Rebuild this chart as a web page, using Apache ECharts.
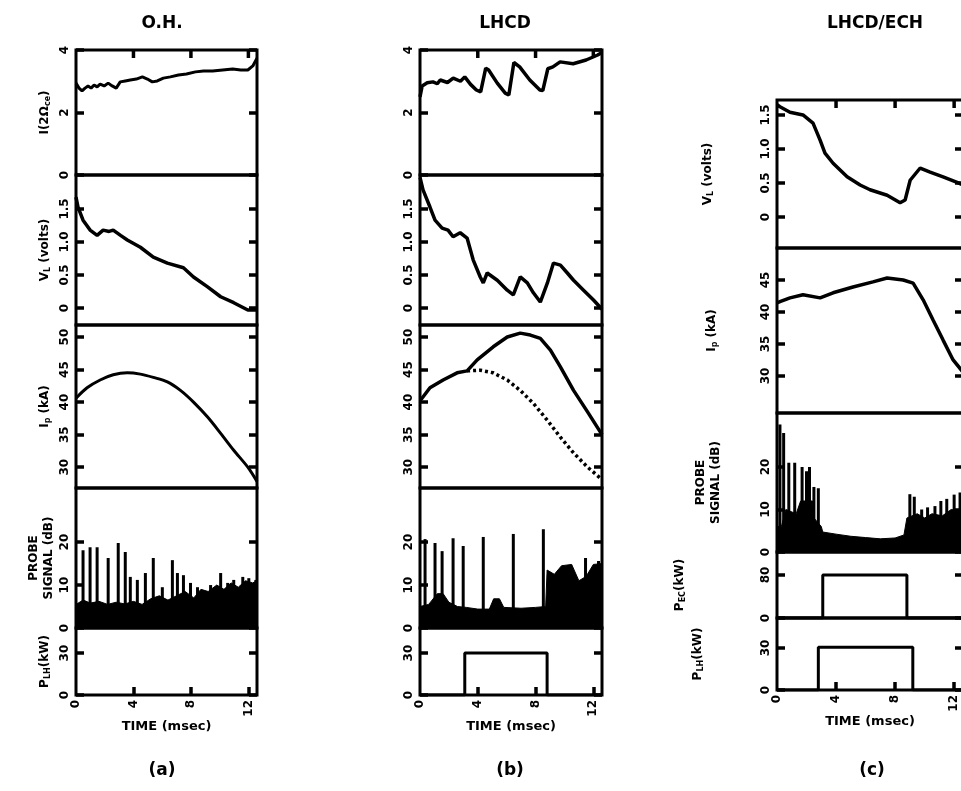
<!DOCTYPE html>
<html>
<head>
<meta charset="utf-8">
<title>O.H. / LHCD / LHCD-ECH</title>
<script src="https://cdn.jsdelivr.net/npm/echarts@6.0.0/dist/echarts.min.js"></script>
<style>
  html, body { margin: 0; padding: 0; background: #fff; }
  #chart { width: 961px; height: 791px; }
</style>
</head>
<body>
<div id="chart"></div>
<script>
// time axis, msec
const tMax = 12.6;
const timeTicks = [0, 4, 8, 12];

// tick values for each kind of panel
const iceTicks = [0, 2, 4];
const vloopTicks = [0, 0.5, 1, 1.5];
const ipTicks = [30, 35, 40, 45, 50];
const ecIpTicks = [30, 35, 40, 45];
const probeTicks = [0, 10, 20];
const plhTicks = [0, 30];
const pecTicks = [0, 80];

// (a) ohmic heating
const ohIce = [[0,2.94],[0.21,2.78],[0.42,2.69],[0.63,2.78],[0.84,2.85],[1.05,2.78],[1.26,2.88],[1.47,2.82],[1.68,2.91],[1.96,2.85],[2.24,2.94],[2.52,2.85],[2.8,2.78],[3.08,2.98],[3.43,3.01],[3.78,3.04],[4.2,3.07],[4.62,3.14],[4.97,3.07],[5.31,2.98],[5.66,3.01],[6.08,3.1],[6.57,3.14],[7.13,3.2],[7.69,3.23],[8.32,3.3],[8.88,3.33],[9.51,3.33],[10.21,3.36],[10.91,3.39],[11.47,3.36],[11.96,3.36],[12.31,3.49],[12.6,3.74]];
const ohVloop = [[0,1.68],[0.14,1.53],[0.49,1.33],[0.98,1.18],[1.47,1.1],[1.89,1.18],[2.3,1.16],[2.59,1.18],[3.1,1.1],[3.57,1.03],[4.48,0.92],[5.38,0.77],[6.36,0.68],[7.48,0.61],[8.18,0.47],[9.16,0.32],[10.07,0.17],[10.98,0.08],[11.96,-0.03],[12.6,-0.03]];
const ohIp = [[0,40.6],[0.77,42.2],[1.68,43.4],[2.59,44.2],[3.57,44.5],[4.48,44.3],[5.38,43.8],[6.36,43.1],[7.27,41.8],[8.18,40],[9.16,37.7],[10.07,35.2],[10.98,32.6],[11.96,30],[12.6,27.8]];
const ohProbeBand = [[0,5.5],[0.5,6.5],[1,5.8],[1.6,6.2],[2.2,5.5],[2.8,6],[3.4,5.6],[4,6.2],[4.6,5.5],[5.2,6.8],[5.8,7.5],[6.4,6.5],[7,7.5],[7.6,8.5],[8.2,7],[8.7,9],[9.2,8.5],[9.8,10],[10.3,9],[10.8,10.5],[11.3,9.5],[11.8,11],[12.3,10.5],[12.6,11]];
const ohProbeSpikes = [[0.49,18.1],[0.98,18.8],[1.47,18.8],[2.24,16.3],[2.94,19.8],[3.43,17.7],[3.78,11.9],[4.27,11.2],[4.83,12.8],[5.38,16.3],[6.01,9.5],[6.71,15.8],[7.06,12.8],[7.48,12.3],[7.97,10.5],[8.46,9.5],[9.37,10],[10.07,12.8],[10.56,10.5],[10.98,11.2],[11.61,11.9],[12.03,11.6],[12.52,11.2]];

// (b) lower hybrid current drive
const lhIce = [[0,2.5],[0.15,2.85],[0.5,2.95],[0.9,2.98],[1.2,2.92],[1.4,3.04],[1.9,2.96],[2.3,3.1],[2.8,3.0],[3.1,3.14],[3.5,2.9],[3.9,2.72],[4.2,2.66],[4.55,3.42],[4.75,3.36],[5.35,2.94],[5.9,2.62],[6.15,2.56],[6.5,3.6],[6.9,3.46],[7.6,3.04],[8.3,2.72],[8.5,2.7],[8.85,3.4],[9.2,3.46],[9.7,3.62],[10.6,3.56],[11.5,3.68],[12.3,3.84],[12.6,3.92]];
const lhVloop = [[0,1.98],[0.21,1.79],[0.69,1.53],[1.04,1.33],[1.53,1.21],[1.94,1.18],[2.29,1.08],[2.78,1.14],[3.26,1.06],[3.68,0.73],[4.17,0.47],[4.38,0.38],[4.65,0.53],[5.35,0.42],[6.04,0.27],[6.46,0.2],[6.94,0.47],[7.43,0.38],[7.85,0.23],[8.33,0.09],[8.82,0.38],[9.24,0.68],[9.72,0.65],[10.2,0.53],[10.63,0.42],[11.32,0.27],[12.01,0.12],[12.6,-0.02]];
const lhIp = [[0,40.3],[0.14,40.6],[0.69,42.2],[1.6,43.4],[2.57,44.5],[3.26,44.8],[3.96,46.5],[5.07,48.5],[6.04,50],[6.94,50.6],[7.64,50.3],[8.33,49.8],[9.03,48],[9.72,45.4],[10.63,41.8],[11.6,38.5],[12.6,35]];
const lhIpOhmic = [[3.26,44.8],[4.17,44.9],[5.07,44.5],[6.04,43.4],[6.94,41.8],[7.85,39.8],[8.82,37.2],[9.72,34.6],[10.63,32.2],[11.6,30],[12.6,28.1]];
const lhProbeBand = [[0,5],[0.6,5.5],[1.2,8],[1.6,8],[2.0,6],[2.6,5],[3.2,4.8],[4,4.4],[4.8,4.4],[5.1,6.8],[5.5,6.8],[5.8,4.8],[7,4.6],[8,4.8],[8.7,5],[8.8,13.5],[9.3,12.5],[9.8,14.5],[10.5,14.8],[11,11],[11.5,12],[12,14.8],[12.6,15]];
const lhProbeSpikes = [[0.35,20.7],[1.04,19.8],[1.53,17.9],[2.29,20.9],[2.99,19.1],[4.38,21.2],[6.46,21.9],[8.54,23],[11.46,16.3],[12.36,15.6]];
const lhPower = [[0,0],[3.1,0],[3.1,30],[8.8,30],[8.8,0],[12.6,0]];

// (c) LHCD with ECH
const ecVloop = [[0,1.65],[0.2,1.62],[0.88,1.54],[1.76,1.5],[2.44,1.38],[2.92,1.13],[3.25,0.94],[3.8,0.79],[4.75,0.59],[5.63,0.47],[6.3,0.4],[7.46,0.32],[8.34,0.21],[8.68,0.25],[9.02,0.54],[9.7,0.72],[10.37,0.66],[11.25,0.59],[12.2,0.51],[12.6,0.47]];
const ecIp = [[0,41.4],[0.2,41.6],[0.88,42.2],[1.76,42.7],[2.92,42.2],[3.8,43],[5.15,43.9],[6.5,44.7],[7.46,45.3],[8.55,45],[9.22,44.5],[9.9,41.9],[10.58,38.7],[11.25,35.6],[11.93,32.5],[12.6,30.6]];
const ecProbeBand = [[0,6],[0.3,6],[0.6,10],[1.3,9],[1.6,12],[2.4,12],[2.5,8],[3.0,6],[3.1,4.7],[4,4.2],[5,3.7],[6,3.4],[7,3.1],[8,3.3],[8.6,4],[8.8,8],[9.5,9],[10,8],[10.5,9],[11.2,8.5],[11.8,10],[12.6,9.5]];
const ecProbeSpikes = [[0.2,30],[0.45,28],[0.8,21],[1.2,21],[1.7,20],[2.0,19],[2.2,20],[2.5,15.3],[2.8,15],[9.0,13.6],[9.3,13],[9.8,10],[10.2,10.5],[10.7,10.8],[11.1,12],[11.5,12.5],[12.0,13.5],[12.4,14]];
const ecPower = [[0,0],[3.1,0],[3.1,80],[8.8,80],[8.8,0],[12.6,0]];
const ecLhPower = [[0,0],[2.8,0],[2.8,30.5],[9.2,30.5],[9.2,0],[12.6,0]];

const ink = '#000';
const font = 'DejaVu Sans';
const nameRich = {
  t: { fontSize: 12, fontWeight: 'bold', fontFamily: font, color: ink, lineHeight: 15 },
  s: { fontSize: 8, fontWeight: 'bold', fontFamily: font, color: ink, lineHeight: 15, verticalAlign: 'bottom' }
};

const columns = [
  { left: 76, width: 181, edges: [50, 175, 325, 488, 628, 695] },
  { left: 420, width: 182, edges: [50, 175, 325, 488, 628, 695] },
  { left: 777, width: 186, edges: [100, 248, 413, 552, 618, 690] }
];

const fmtV = v => (v === 0 ? '0' : v.toFixed(1));

function lineS(data, extra) {
  return Object.assign({ type: 'line', data, symbol: 'none', lineStyle: { color: ink, width: 3.5 } }, extra || {});
}
function bandS(data) {
  return { type: 'line', data, symbol: 'none', lineStyle: { color: ink, width: 1 }, areaStyle: { color: ink, opacity: 1 } };
}
function spikeS(data) {
  return { type: 'bar', data, barWidth: 3, itemStyle: { color: ink } };
}
// short tick marks hanging from the upper frame of a panel
function topTicksS(yTop) {
  return {
    type: 'custom',
    data: timeTicks.slice(1).map(t => [t]),
    renderItem: (params, api) => {
      const p = api.coord([api.value(0), yTop]);
      return { type: 'line', shape: { x1: p[0], y1: p[1], x2: p[0], y2: p[1] + 8 }, style: { stroke: ink, lineWidth: 3.5 } };
    }
  };
}

const panels = [
  [
    { min: 0, max: 4, ticks: iceTicks, name: '{t|I(2Ω}{s|ce}{t|)}', gap: 24, series: [lineS(ohIce, { lineStyle: { color: ink, width: 3 } })] },
    { min: -0.258, max: 2.015, ticks: vloopTicks, fmt: fmtV, name: '{t|V}{s|L}{t| (volts)}', gap: 24, series: [lineS(ohVloop)] },
    { min: 26.8, max: 51.85, ticks: ipTicks, name: '{t|I}{s|p}{t| (kA)}', gap: 24, series: [lineS(ohIp, { smooth: 0.3, lineStyle: { color: ink, width: 3 } })] },
    { min: 0, max: 32.6, ticks: probeTicks, name: '{t|PROBE}\n{t|SIGNAL (dB)}', gap: 20, series: [bandS(ohProbeBand), spikeS(ohProbeSpikes)] },
    { min: 0, max: 47.9, ticks: plhTicks, name: '{t|P}{s|LH}{t|(kW)}', gap: 24, series: [] }
  ],
  [
    { min: 0, max: 4, ticks: iceTicks, series: [lineS(lhIce)] },
    { min: -0.258, max: 2.015, ticks: vloopTicks, fmt: fmtV, series: [lineS(lhVloop)] },
    { min: 26.8, max: 51.85, ticks: ipTicks, series: [lineS(lhIp), lineS(lhIpOhmic, { lineStyle: { color: ink, width: 3.5, type: [3, 3] } })] },
    { min: 0, max: 32.6, ticks: probeTicks, series: [bandS(lhProbeBand), spikeS(lhProbeSpikes)] },
    { min: 0, max: 47.9, ticks: plhTicks, series: [lineS(lhPower, { lineStyle: { color: ink, width: 3 } })] }
  ],
  [
    { min: -0.456, max: 1.72, ticks: vloopTicks, fmt: fmtV, name: '{t|V}{s|L}{t| (volts)}', gap: 62, series: [lineS(ecVloop)] },
    { min: 24.2, max: 50, ticks: ecIpTicks, name: '{t|I}{s|p}{t| (kA)}', gap: 58, series: [lineS(ecIp)] },
    { min: 0, max: 32.7, ticks: probeTicks, name: '{t|PROBE}\n{t|SIGNAL (dB)}', gap: 54, series: [bandS(ecProbeBand), spikeS(ecProbeSpikes)] },
    { min: 0, max: 122.8, ticks: pecTicks, name: '{t|P}{s|EC}{t|(kW)}', gap: 90, series: [lineS(ecPower, { lineStyle: { color: ink, width: 3 } })] },
    { min: 0, max: 51.4, ticks: plhTicks, name: '{t|P}{s|LH}{t|(kW)}', gap: 72, series: [lineS(ecLhPower, { lineStyle: { color: ink, width: 3 } })] }
  ]
];

const tickStyle = { show: true, inside: true, length: 8, lineStyle: { color: ink, width: 3.5 } };
const labelStyle = { color: ink, fontFamily: font, fontWeight: 'bold', fontSize: 12, rotate: 90, margin: 5 };
const hiddenLine = { show: false, onZero: false };

const option = {
  animation: false,
  backgroundColor: '#fff',
  title: [
    { text: 'O.H.', left: 157, top: 10 },
    { text: 'LHCD', left: 500, top: 10 },
    { text: 'LHCD/ECH', left: 870, top: 10 },
    { text: '(a)', left: 157, top: 757 },
    { text: '(b)', left: 505, top: 757 },
    { text: '(c)', left: 867, top: 757 }
  ].map(t => Object.assign(t, { textAlign: 'center', textStyle: { color: ink, fontFamily: font, fontWeight: 'bold', fontSize: 17 } })),
  grid: [], xAxis: [], yAxis: [], series: []
};

columns.forEach((col, ci) => {
  const rows = panels[ci];
  rows.forEach((p, ri) => {
    const g = option.grid.length;
    const isTop = ri === 0;
    const isBottom = ri === rows.length - 1;
    option.grid.push({
      left: col.left, width: col.width,
      top: col.edges[ri], height: col.edges[ri + 1] - col.edges[ri],
      show: true, borderColor: ink, borderWidth: 3, outerBoundsMode: 'none'
    });
    const xi = option.xAxis.length;
    option.xAxis.push({
      gridIndex: g, type: 'value', min: 0, max: tMax,
      axisLine: hiddenLine, splitLine: { show: false },
      axisTick: Object.assign({}, tickStyle, { show: isBottom, customValues: [4, 8, 12] }),
      axisLabel: Object.assign({}, labelStyle, { show: isBottom, customValues: timeTicks }),
      name: isBottom ? 'TIME (msec)' : '', nameLocation: 'middle', nameGap: 22,
      nameTextStyle: { color: ink, fontFamily: font, fontWeight: 'bold', fontSize: 13 }
    });
    const yi = option.yAxis.length;
    option.yAxis.push({
      gridIndex: g, type: 'value', min: p.min, max: p.max,
      axisLine: hiddenLine, splitLine: { show: false },
      axisTick: Object.assign({}, tickStyle, { customValues: p.ticks }),
      axisLabel: Object.assign({}, labelStyle, { customValues: p.ticks, formatter: p.fmt || (v => String(v)) }),
      name: p.name || '', nameLocation: 'middle', nameGap: p.gap || 24, nameRotate: 90,
      nameTextStyle: { rich: nameRich, align: 'center' }
    });
    option.yAxis.push({
      gridIndex: g, type: 'value', position: 'right', min: p.min, max: p.max,
      axisLine: hiddenLine, splitLine: { show: false },
      axisTick: Object.assign({}, tickStyle, { customValues: p.ticks }),
      axisLabel: { show: false }
    });
    const list = isTop ? p.series.concat([topTicksS(p.max)]) : p.series;
    list.forEach(s => {
      option.series.push(Object.assign({ xAxisIndex: xi, yAxisIndex: yi, silent: true }, s));
    });
  });
});

const chart = echarts.init(document.getElementById('chart'), null, { renderer: 'canvas' });
chart.setOption(option);
window.addEventListener('resize', () => chart.resize());
</script>
</body>
</html>
